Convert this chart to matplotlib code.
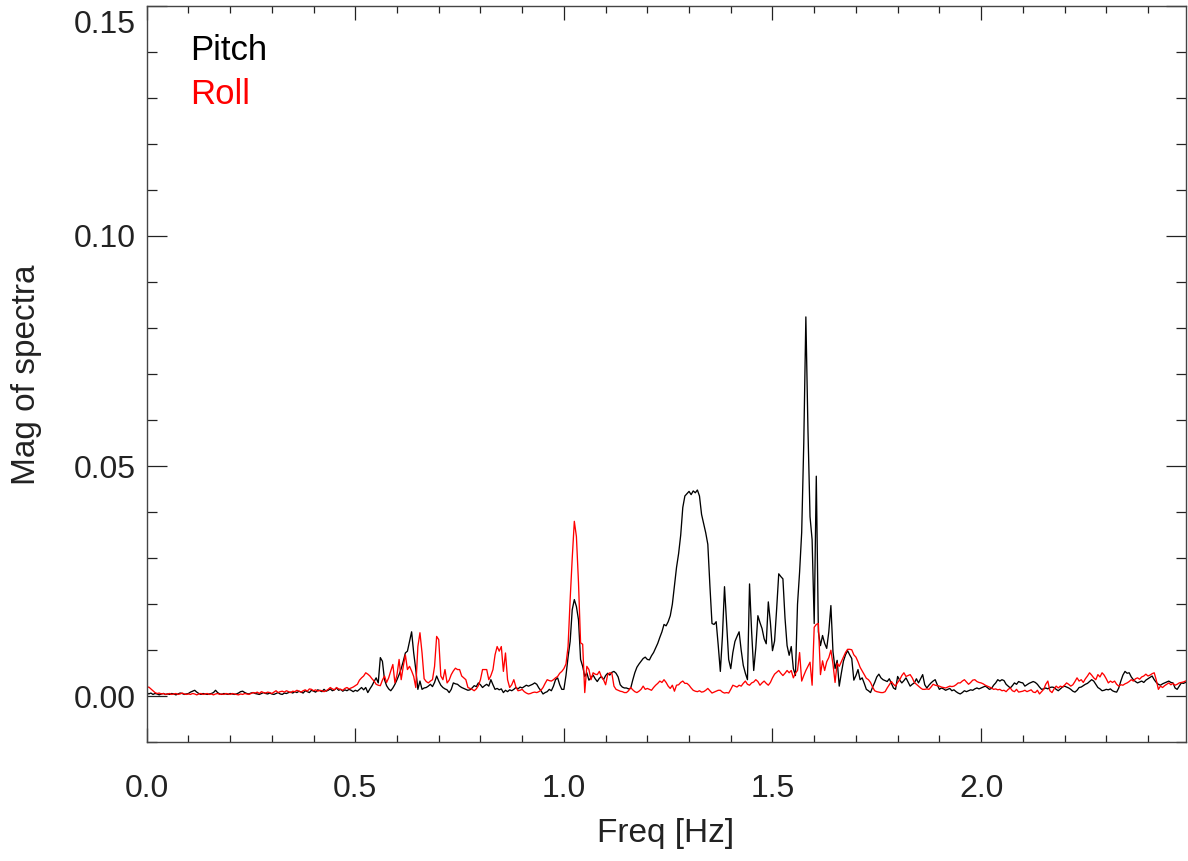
import numpy as np
import matplotlib
matplotlib.use("Agg")
import matplotlib.pyplot as plt
from matplotlib.ticker import MultipleLocator, FuncFormatter

# ---------------- data (spectral magnitude, units of 1e-3) ----------------
df = 0.005  # frequency resolution [Hz]

pitch_milli = [
    0.8, 0.5, 0.7, 0.4, 0.6, 0.5, 0.3, 0.5, 0.6, 0.4,
    0.5, 0.4, 0.6, 0.5, 0.3, 0.5, 0.7, 0.6, 0.4, 0.5,
    0.6, 0.9, 1.1, 1.3, 0.9, 0.6, 0.4, 0.6, 0.5, 0.4,
    0.5, 0.6, 0.8, 1.3, 0.8, 0.5, 0.4, 0.6, 0.5, 0.4,
    0.6, 0.5, 0.4, 0.5, 0.7, 1.0, 1.1, 0.8, 0.6, 0.5,
    0.7, 0.8, 0.6, 0.5, 0.4, 0.6, 0.8, 0.6, 0.5, 0.7,
    0.5, 0.4, 0.6, 0.8, 0.5, 0.4, 0.7, 0.6, 0.8, 0.9,
    0.7, 1.0, 0.8, 1.1, 0.9, 0.7, 1.2, 1.0, 0.8, 1.3,
    1.1, 0.9, 1.4, 1.2, 1.0, 1.5, 1.1, 1.3, 1.6, 1.2,
    1.4, 1.8, 1.3, 1.5, 1.1, 1.4, 1.2, 1.5, 1.3, 1.0,
    1.3, 1.1, 1.5, 1.9, 1.4, 1.9, 0.8, 1.6, 2.3, 3.2,
    4.0, 2.9, 8.4, 7.6, 3.6, 2.3, 1.6, 1.2, 1.8, 2.6,
    3.6, 4.7, 6.0, 7.6, 9.4, 9.8, 11.9, 14.0, 9.4, 5.8,
    1.5, 3.3, 1.5, 1.8, 1.9, 2.2, 2.6, 2.1, 3.0, 4.4,
    3.3, 2.4, 1.9, 1.6, 1.4, 0.8, 1.5, 2.9, 2.7, 2.6,
    2.2, 1.9, 1.7, 1.5, 1.3, 1.4, 1.8, 2.3, 2.1, 2.9,
    2.5, 1.9, 2.3, 2.6, 2.2, 3.6, 2.5, 1.5, 1.7, 1.4,
    1.6, 0.8, 1.3, 1.0, 1.4, 1.2, 1.5, 1.9, 1.6, 2.0,
    1.8, 2.1, 2.4, 2.2, 2.4, 2.6, 2.9, 2.6, 1.8, 1.2,
    0.5, 0.8, 1.0, 1.5, 1.2, 2.2, 3.6, 4.0, 2.5, 1.5,
    1.5, 4.5, 8.5, 11.9, 18.8, 21.0, 19.5, 16.6, 8.0, 6.5,
    4.3, 5.1, 3.5, 4.0, 4.6, 3.8, 3.2, 3.9, 4.3, 3.6,
    4.5, 5.0, 4.6, 5.2, 5.4, 5.0, 4.2, 2.5, 2.0, 1.8,
    1.8, 1.6, 1.7, 3.5, 5.1, 6.3, 7.0, 7.6, 8.2, 8.5,
    8.0, 7.9, 8.8, 9.5, 10.5, 11.5, 12.8, 14.0, 15.6, 15.3,
    16.2, 17.5, 20.0, 24.0, 28.0, 31.0, 35.0, 41.0, 43.5, 44.0,
    44.5, 43.8, 44.6, 44.2, 44.8, 43.5, 39.5, 37.5, 35.5, 33.0,
    24.0, 15.8, 15.6, 16.2, 11.0, 5.4, 13.0, 23.8, 16.0, 8.0,
    6.0, 9.5, 11.9, 13.0, 14.0, 10.0, 6.7, 5.0, 3.6, 24.4,
    14.0, 5.6, 10.5, 17.5, 16.0, 14.7, 12.5, 11.4, 20.5, 16.0,
    9.9, 12.0, 19.0, 26.6, 26.0, 25.5, 17.0, 11.0, 8.9, 10.8,
    6.0, 4.5, 20.0, 27.0, 35.6, 55.0, 82.4, 58.0, 39.0, 34.0,
    15.8, 47.8, 14.0, 11.0, 13.2, 11.5, 10.4, 14.0, 19.7, 9.7,
    6.0, 7.8, 2.2, 5.0, 7.6, 9.0, 9.9, 9.0, 8.2, 3.5,
    4.5, 5.8, 3.6, 4.0, 2.8, 1.5, 1.2, 0.8, 2.0, 3.0,
    4.2, 4.8, 4.0, 3.6, 3.4, 3.2, 3.8, 2.8, 1.8, 1.5,
    4.3, 3.5, 2.9, 3.4, 4.0, 3.1, 2.2, 2.6, 2.9, 3.8,
    2.9, 3.8, 4.7, 2.5, 1.8, 2.4, 2.9, 3.3, 3.6, 2.5,
    1.5, 1.8, 1.6, 1.3, 1.5, 1.7, 1.2, 1.4, 1.0, 0.7,
    0.5, 0.8, 1.2, 1.0, 1.2, 1.4, 1.3, 1.6, 1.8, 1.6,
    1.8, 2.0, 2.2, 1.9, 1.5, 1.7, 2.4, 2.9, 3.6, 3.3,
    3.6, 3.4, 2.6, 2.2, 1.8, 2.3, 2.9, 2.6, 3.2, 3.0,
    2.9, 2.2, 2.5, 2.8, 3.0, 3.2, 3.0, 2.6, 2.0, 1.5,
    1.6, 1.8, 1.6, 1.9, 2.0, 1.9, 1.5, 1.2, 1.6, 2.0,
    2.2, 2.0, 1.8, 1.5, 1.1, 0.9, 1.3, 1.9, 2.0, 2.3,
    2.6, 2.8, 3.2, 3.6, 3.3, 2.6, 1.9, 1.6, 1.2, 1.3,
    1.5, 1.4, 1.6, 1.2, 1.0, 0.9, 1.8, 3.3, 4.6, 5.4,
    5.0, 5.1, 4.2, 3.6, 3.2, 2.9, 3.1, 3.3, 3.0, 3.5,
    3.8, 4.1, 4.4, 3.6, 3.0, 2.6, 2.4, 2.7, 2.9, 3.1,
    3.3, 3.0, 2.9, 1.8, 1.5, 2.2, 2.9, 2.8, 3.0,
]

roll_milli = [
    1.9, 2.0, 1.6, 1.2, 0.8, 0.6, 0.7, 0.5, 0.6, 0.4,
    0.5, 0.6, 0.4, 0.5, 0.6, 0.4, 0.5, 0.7, 0.5, 0.4,
    0.5, 0.4, 0.6, 0.5, 0.3, 0.5, 0.6, 0.4, 0.5, 0.6,
    0.4, 0.5, 0.3, 0.5, 0.6, 0.4, 0.5, 0.4, 0.6, 0.5,
    0.4, 0.6, 0.5, 0.4, 0.3, 0.5, 0.4, 0.6, 0.5, 0.4,
    0.6, 0.8, 0.7, 0.9, 0.6, 1.0, 0.8, 0.7, 0.9, 0.8,
    0.6, 0.9, 1.2, 0.8, 1.0, 1.1, 0.9, 1.2, 1.0, 0.8,
    1.1, 1.0, 1.3, 1.1, 0.9, 1.2, 1.4, 1.1, 1.6, 1.5,
    1.2, 1.4, 1.1, 1.3, 1.2, 1.0, 1.2, 1.5, 1.9, 1.6,
    1.4, 1.9, 1.6, 1.5, 1.3, 1.7, 1.9, 1.6, 1.8, 2.0,
    2.3, 2.6, 3.5, 4.0, 4.4, 5.1, 4.8, 4.4, 3.8, 3.3,
    2.6, 2.4, 2.3, 3.5, 4.4, 3.0, 4.0, 5.5, 6.9, 2.9,
    4.7, 8.0, 3.6, 6.5, 9.0, 5.8, 6.5, 5.5, 4.3, 1.9,
    10.8, 13.8, 9.4, 3.8, 3.2, 2.9, 3.3, 3.6, 6.5, 13.0,
    12.3, 4.4, 3.6, 5.8, 2.9, 3.5, 4.7, 5.5, 6.1, 5.8,
    5.8, 4.4, 4.0, 3.6, 1.9, 1.7, 1.5, 1.2, 1.6, 2.3,
    3.6, 5.8, 5.8, 5.8, 3.6, 4.5, 5.8, 9.0, 10.8, 9.8,
    10.8, 5.4, 9.4, 3.6, 1.9, 2.5, 3.6, 2.0, 1.2, 1.3,
    1.5, 1.0, 0.7, 0.5, 0.6, 0.8, 0.9, 0.8, 1.0, 1.3,
    1.9, 2.8, 3.6, 3.4, 3.3, 3.6, 4.0, 4.3, 5.0, 5.4,
    6.0, 7.0, 10.8, 21.0, 30.0, 38.0, 34.7, 24.7, 11.6, 11.3,
    0.8, 6.5, 5.8, 3.6, 5.1, 4.8, 4.7, 5.4, 4.2, 3.6,
    2.5, 4.7, 5.1, 5.0, 2.2, 1.5, 1.3, 1.1, 1.0, 0.8,
    0.8, 1.2, 1.9, 1.4, 1.0, 0.8, 1.1, 1.5, 2.2, 1.5,
    1.7, 1.5, 1.3, 1.9, 2.4, 2.8, 3.3, 3.0, 3.6, 3.0,
    2.2, 1.7, 2.4, 1.1, 2.4, 2.5, 3.0, 3.3, 2.8, 2.8,
    2.4, 1.8, 1.3, 1.1, 1.0, 1.2, 0.9, 1.0, 1.3, 1.7,
    1.2, 0.7, 0.9, 1.1, 1.3, 1.3, 0.9, 0.7, 0.8, 0.7,
    1.5, 2.4, 2.2, 2.0, 2.4, 2.2, 2.8, 3.3, 2.6, 2.4,
    2.9, 3.1, 3.6, 3.2, 2.4, 2.9, 3.3, 2.8, 2.4, 3.0,
    4.0, 4.8, 5.2, 5.6, 5.0, 4.5, 5.0, 5.6, 5.1, 5.6,
    4.0, 5.0, 5.6, 9.5, 3.3, 4.5, 5.6, 6.5, 7.4, 2.4,
    15.0, 15.6, 15.8, 4.7, 7.7, 5.6, 7.5, 8.4, 10.0, 7.0,
    3.0, 7.2, 6.5, 7.5, 8.5, 9.5, 10.2, 10.2, 10.1, 9.0,
    8.5, 7.5, 6.3, 5.5, 4.7, 3.9, 3.6, 3.0, 2.0, 1.2,
    1.0, 0.9, 0.8, 0.8, 1.0, 1.8, 2.5, 3.2, 2.6, 2.2,
    3.0, 3.6, 4.5, 5.1, 4.3, 4.5, 4.7, 4.0, 3.0, 2.6,
    2.2, 1.8, 1.5, 1.5, 1.6, 1.5, 2.0, 2.6, 2.4, 2.3,
    2.2, 2.0, 1.9, 1.8, 2.0, 2.2, 2.1, 2.2, 2.5, 2.9,
    2.9, 3.3, 3.6, 3.1, 2.6, 3.0, 3.5, 3.6, 3.2, 3.0,
    2.9, 2.7, 2.4, 2.2, 2.0, 1.8, 1.5, 1.6, 1.4, 1.5,
    1.2, 1.3, 1.0, 1.5, 1.8, 1.2, 1.0, 1.5, 0.9, 1.0,
    1.1, 1.3, 1.0, 1.2, 1.4, 0.9, 0.8, 1.3, 0.5, 1.0,
    1.5, 2.6, 3.3, 1.2, 0.8, 1.6, 2.2, 1.8, 2.2, 2.0,
    2.4, 2.9, 2.6, 2.2, 2.5, 3.2, 4.0, 3.3, 3.6, 3.0,
    3.8, 4.4, 5.1, 4.6, 4.0, 3.6, 4.7, 4.2, 5.1, 4.6,
    3.8, 2.9, 3.3, 3.0, 3.3, 2.6, 2.2, 2.5, 2.4, 2.7,
    2.9, 3.2, 3.6, 3.3, 3.8, 4.0, 3.7, 4.2, 4.4, 4.8,
    4.4, 4.6, 4.9, 5.1, 3.5, 1.5, 2.2, 1.9, 2.3, 2.6,
    2.9, 2.5, 2.8, 2.4, 2.6, 2.9, 3.0, 3.1, 3.3,
]

series_labels = ["Pitch", "Roll"]
x_label = "Freq [Hz]"
y_label = "Mag of spectra"
y_top = 0.15

# ---------------- figure ----------------
plt.rcParams['font.family'] = ['Liberation Sans', 'DejaVu Sans']
text_col = '#222222'
tick_fs = 23

W, H = 1188, 861
fig = plt.figure(figsize=(W / 100, H / 100), dpi=100)
ax = fig.add_axes([146.7 / W, 1 - 742.3 / H, (1185.5 - 146.7) / W, (742.3 - 5.7) / H])

pitch = np.array(pitch_milli) * 1e-3
roll = np.array(roll_milli) * 1e-3
f_pitch = np.arange(len(pitch)) * df
f_roll = np.arange(len(roll)) * df

ax.plot(f_pitch, pitch, color='black', lw=0.95)
ax.plot(f_roll, roll, color='#ff0000', lw=0.95)

ax.set_xlim(0, 2.49)
ax.set_ylim(-0.01, y_top)

ax.xaxis.set_major_locator(MultipleLocator(0.5))
ax.xaxis.set_minor_locator(MultipleLocator(0.1))
ax.yaxis.set_major_locator(MultipleLocator(0.05))
ax.yaxis.set_minor_locator(MultipleLocator(0.01))
ax.xaxis.set_major_formatter(FuncFormatter(lambda v, p: f"{v:.1f}"))
# the top label is drawn separately so that it sits inside the figure (as in the original)
ax.yaxis.set_major_formatter(
    FuncFormatter(lambda v, p: "" if abs(v - y_top) < 1e-9 else f"{v:.2f}"))

for sp in ax.spines.values():
    sp.set_color('#444444')
    sp.set_linewidth(1.0)

ax.tick_params(axis='both', which='both', direction='in', top=True, right=True,
               color='#222222', width=0.9, labelcolor=text_col, labelsize=tick_fs)
ax.tick_params(axis='x', which='major', length=10, pad=23)
ax.tick_params(axis='x', which='minor', length=5)
ax.tick_params(axis='y', which='major', length=14.4, pad=8)
ax.tick_params(axis='y', which='minor', length=7.2)

ax.annotate(f"{y_top:.2f}", xy=(0, y_top), xycoords=('axes fraction', 'data'),
            xytext=(-8, -3), textcoords='offset points', ha='right', va='top',
            fontsize=tick_fs, color=text_col, annotation_clip=False)

fig.text(666 / W, 1 - 842 / H, x_label, ha='center', va='baseline',
         fontsize=24, color=text_col)
fig.text(27 / W, 1 - 375 / H, y_label, ha='center', va='center', rotation=90,
         fontsize=24, color=text_col)

fig.text(190 / W, 1 - 60 / H, series_labels[0], ha='left', va='baseline',
         fontsize=25, color='black')
fig.text(190 / W, 1 - 104 / H, series_labels[1], ha='left', va='baseline',
         fontsize=25, color='#ff0000')

fig.savefig('out.png', dpi=100)
